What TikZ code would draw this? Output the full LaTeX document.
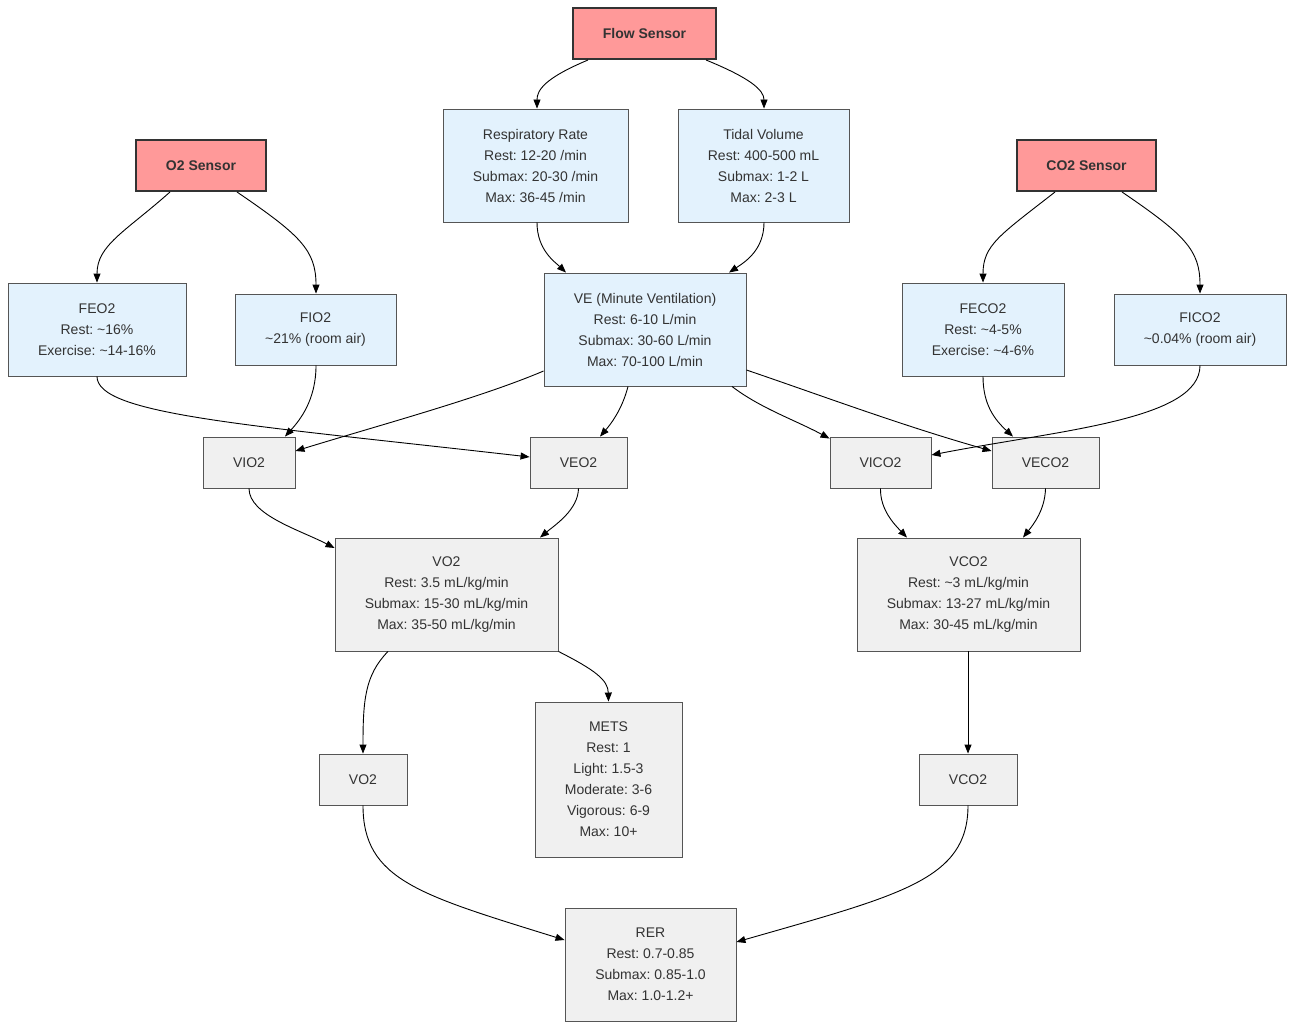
\documentclass[tikz,border=0pt]{standalone}
\usepackage{fontspec}
\setmainfont{Liberation Sans}
\usetikzlibrary{arrows.meta}
\frenchspacing
\definecolor{txt}{HTML}{333333}
\definecolor{sensorfill}{HTML}{FF9999}
\definecolor{bluefill}{HTML}{E3F2FD}
\definecolor{greyfill}{HTML}{F0F0F0}
\definecolor{boxline}{HTML}{555555}
\tikzset{
  base/.style={rectangle, inner sep=0pt, align=center, text=txt, font=\frenchspacing\fontsize{14}{21}\selectfont},
  sensor/.style={base, fill=sensorfill, draw=txt, line width=2pt, font=\frenchspacing\fontsize{14}{21}\selectfont\bfseries},
  meas/.style={base, fill=bluefill, draw=boxline, line width=0.9pt},
  calc/.style={base, fill=greyfill, draw=boxline, line width=0.9pt},
  edge/.style={draw=black, line width=0.9pt, -{Triangle[length=9pt,width=7pt]}},
}
\begin{document}
\begin{tikzpicture}[x=1pt,y=-1pt]
\useasboundingbox[fill=white] (0,0) rectangle (1295,1030);
% sensors
\node[sensor, minimum width=143pt, minimum height=51pt] (flow) at (644.5,33.5) {Flow Sensor};
\node[sensor, minimum width=130pt, minimum height=51pt] (o2) at (201,165.5) {O2 Sensor};
\node[sensor, minimum width=139pt, minimum height=51pt] (co2) at (1086.5,165.5) {CO2 Sensor};
% measurements
\node[meas, minimum width=185pt, minimum height=113pt] (rr) at (535.5,165.5) {Respiratory Rate\\Rest: 12-20 /min\\Submax: 20-30 /min\\Max: 36-45 /min};
\node[meas, minimum width=171pt, minimum height=113pt] (tv) at (763.5,165.5) {Tidal Volume\\Rest: 400-500 mL\\Submax: 1-2 L\\Max: 2-3 L};
\node[meas, minimum width=178pt, minimum height=93pt] (feo2) at (97,329.5) {FEO2\\Rest: \textasciitilde16\%\\Exercise: \textasciitilde14-16\%};
\node[meas, minimum width=161pt, minimum height=71pt] (fio2) at (315.5,329.5) {FIO2\\\textasciitilde21\% (room air)};
\node[meas, minimum width=202pt, minimum height=113pt] (ve) at (645,329.5) {VE (Minute Ventilation)\\Rest: 6-10 L/min\\Submax: 30-60 L/min\\Max: 70-100 L/min};
\node[meas, minimum width=162pt, minimum height=93pt] (feco2) at (983,329.5) {FECO2\\Rest: \textasciitilde4-5\%\\Exercise: \textasciitilde4-6\%};
\node[meas, minimum width=172pt, minimum height=71pt] (fico2) at (1200,329.5) {FICO2\\\textasciitilde0.04\% (room air)};
% calculated
\node[calc, minimum width=92pt, minimum height=51pt] (vio2) at (249,462.5) {VIO2};
\node[calc, minimum width=97pt, minimum height=51pt] (veo2) at (578.5,462.5) {VEO2};
\node[calc, minimum width=101pt, minimum height=51pt] (vico2) at (880.5,462.5) {VICO2};
\node[calc, minimum width=107pt, minimum height=51pt] (veco2) at (1045.5,462.5) {VECO2};
\node[calc, minimum width=223pt, minimum height=113pt] (vo2) at (446.5,594.5) {VO2\\Rest: 3.5 mL/kg/min\\Submax: 15-30 mL/kg/min\\Max: 35-50 mL/kg/min};
\node[calc, minimum width=223pt, minimum height=113pt] (vco2) at (968.5,594.5) {VCO2\\Rest: \textasciitilde3 mL/kg/min\\Submax: 13-27 mL/kg/min\\Max: 30-45 mL/kg/min};
\node[calc, minimum width=88pt, minimum height=51pt] (vo2s) at (363,779.5) {VO2};
\node[calc, minimum width=147pt, minimum height=155pt] (mets) at (608.5,779.5) {METS\\Rest: 1\\Light: 1.5-3\\Moderate: 3-6\\Vigorous: 6-9\\Max: 10+};
\node[calc, minimum width=98pt, minimum height=51pt] (vco2s) at (968,779.5) {VCO2};
\node[calc, minimum width=171pt, minimum height=113pt] (rer) at (650.5,964.5) {RER\\Rest: 0.7-0.85\\Submax: 0.85-1.0\\Max: 1.0-1.2+};
% edges
\draw[edge] ([xshift=-56.5pt]flow.south) .. controls (545,78) and (537,90) .. ([xshift=1.5pt]rr.north);
\draw[edge] ([xshift=61.5pt]flow.south) .. controls (750,78) and (764,90) .. ([xshift=0.5pt]tv.north);
\draw[edge] ([xshift=-31pt]o2.south) .. controls (125,232) and (97,245) .. (feo2.north);
\draw[edge] ([xshift=36pt]o2.south) .. controls (300,235) and (316,250) .. ([xshift=0.5pt]fio2.north);
\draw[edge] ([xshift=-31.5pt]co2.south) .. controls (1000,235) and (983,245) .. (feco2.north);
\draw[edge] ([xshift=35.5pt]co2.south) .. controls (1185,235) and (1200,250) .. (fico2.north);
\draw[edge] ([xshift=1.5pt]rr.south) .. controls (537,250) and (555,262) .. ([xshift=-79pt]ve.north);
\draw[edge] ([xshift=0.5pt]tv.south) .. controls (764,250) and (745,262) .. ([xshift=84pt]ve.north);
\draw[edge] (feo2.south) .. controls (97,415) and (250,425) .. ([yshift=5.5pt]veo2.west);
\draw[edge] ([xshift=0.5pt]fio2.south) .. controls (316,400) and (300,420) .. ([xshift=36pt]vio2.north);
\draw[edge] ([yshift=-41.5pt]ve.west) .. controls (480,398) and (380,425) .. ([yshift=11.5pt]vio2.east);
\draw[edge] ([xshift=-17pt]ve.south) .. controls (622,410) and (610,425) .. ([xshift=21.5pt]veo2.north);
\draw[edge] ([xshift=87pt]ve.south) .. controls (760,408) and (795,420) .. ([yshift=-2pt]vico2.north west);
\draw[edge] ([yshift=-40.5pt]ve.east) .. controls (820,395) and (900,425) .. ([yshift=11.5pt]veco2.west);
\draw[edge] (feco2.south) .. controls (983,405) and (995,420) .. ([xshift=-32.5pt]veco2.north);
\draw[edge] (fico2.south) .. controls (1200,420) and (1060,430) .. ([yshift=7.5pt]vico2.east);
\draw[edge] (vio2.south) .. controls (249,515) and (300,530) .. ([yshift=46.5pt]vo2.west);
\draw[edge] (veo2.south) .. controls (578,510) and (555,525) .. ([xshift=93.5pt]vo2.north);
\draw[edge] (vico2.south) .. controls (880,510) and (895,525) .. ([xshift=-61.5pt]vco2.north);
\draw[edge] (veco2.south) .. controls (1045,510) and (1033,525) .. ([xshift=54.5pt]vco2.north);
\draw[edge] ([xshift=-58.5pt]vo2.south) .. controls (365,675) and (363,700) .. (vo2s.north);
\draw[edge] (vo2.south east) .. controls (595,670) and (608,680) .. (mets.north);
\draw[edge] (vco2.south -| vco2s.north) -- (vco2s.north);
\draw[edge] (vo2s.south) .. controls (363,880) and (420,895) .. ([yshift=24.5pt]rer.west);
\draw[edge] (vco2s.south) .. controls (968,880) and (900,895) .. ([yshift=22.5pt]rer.east);
\end{tikzpicture}
\end{document}
